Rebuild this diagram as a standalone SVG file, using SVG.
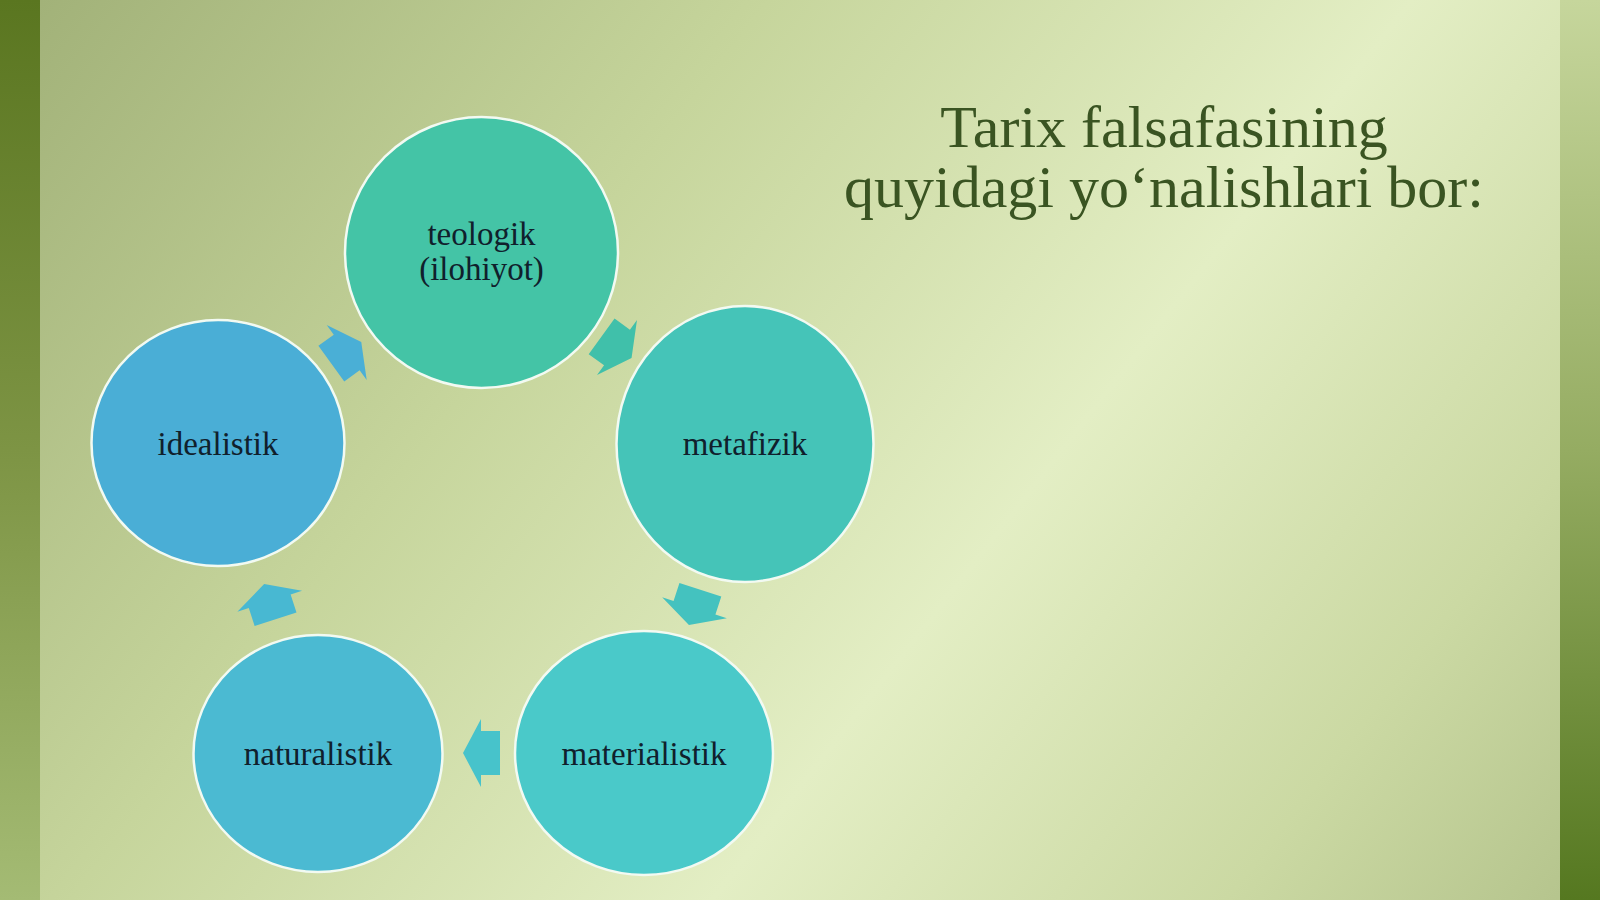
<svg xmlns="http://www.w3.org/2000/svg" xmlns:xlink="http://www.w3.org/1999/xlink" width="1600" height="900" viewBox="0 0 1600 900">
  <defs>
    <linearGradient id="bg" gradientUnits="userSpaceOnUse" x1="0" y1="0" x2="1600" y2="1244">
      <stop offset="0" stop-color="#a0b077"/>
      <stop offset="0.3" stop-color="#c6d59c"/>
      <stop offset="0.55" stop-color="#e3eec4"/>
      <stop offset="0.75" stop-color="#cbd9a3"/>
      <stop offset="1" stop-color="#a2b27a"/>
    </linearGradient>
    <linearGradient id="barL" x1="0" y1="0" x2="0" y2="1">
      <stop offset="0" stop-color="#5a7620"/>
      <stop offset="0.5" stop-color="#7d9444"/>
      <stop offset="1" stop-color="#a4bb74"/>
    </linearGradient>
    <linearGradient id="barR" x1="0" y1="0" x2="0" y2="1">
      <stop offset="0" stop-color="#c6d69c"/>
      <stop offset="0.5" stop-color="#95ac62"/>
      <stop offset="1" stop-color="#557820"/>
    </linearGradient>
    <path id="arrow" d="M-19,-22 H0 V-34 L18,0 L0,34 V22 H-19 Z"/>
    <style>
      .node { stroke: #f2faf2; stroke-width: 2.5; }
      .label { font-family: "Liberation Serif", "Times New Roman", serif; font-size: 33px; fill: #10202c; text-anchor: middle; }
      .title { font-family: "Liberation Serif", "Times New Roman", serif; font-size: 60px; fill: #3a5422; text-anchor: middle; }
    </style>
  </defs>

  <rect x="0" y="0" width="1600" height="900" fill="url(#bg)"/>
  <rect x="0" y="0" width="40" height="900" fill="url(#barL)"/>
  <rect x="1560" y="0" width="40" height="900" fill="url(#barR)"/>

  <g id="title">
    <text class="title" x="1164" y="147">Tarix falsafasining</text>
    <text class="title" x="1164" y="207">quyidagi yo‘nalishlari bor:</text>
  </g>

  <g id="connectors">
    <use xlink:href="#arrow" href="#arrow" fill="#40c0aa" transform="translate(617,347.5) rotate(36)"/>
    <use xlink:href="#arrow" href="#arrow" fill="#44c2bf" transform="translate(694.5,607.8) rotate(108)"/>
    <use xlink:href="#arrow" href="#arrow" fill="#47c3cb" transform="translate(481,753) rotate(180)"/>
    <use xlink:href="#arrow" href="#arrow" fill="#48b8d2" transform="translate(269.7,601.2) rotate(252)"/>
    <use xlink:href="#arrow" href="#arrow" fill="#4aafd6" transform="translate(346.7,352.5) rotate(324)"/>
  </g>

  <g id="node-teologik">
    <ellipse class="node" cx="481.5" cy="252.5" rx="136.5" ry="135.5" fill="#44c4a6"/>
    <text class="label" x="481.5" y="245">teologik</text>
    <text class="label" x="481.5" y="280">(ilohiyot)</text>
  </g>
  <g id="node-metafizik">
    <ellipse class="node" cx="745" cy="444" rx="128.5" ry="138" fill="#45c4b8"/>
    <text class="label" x="745" y="455">metafizik</text>
  </g>
  <g id="node-materialistik">
    <ellipse class="node" cx="644" cy="753" rx="129" ry="122" fill="#4ac9c9"/>
    <text class="label" x="644" y="765">materialistik</text>
  </g>
  <g id="node-naturalistik">
    <ellipse class="node" cx="318" cy="753.5" rx="124.5" ry="118.5" fill="#4bbad2"/>
    <text class="label" x="318" y="765">naturalistik</text>
  </g>
  <g id="node-idealistik">
    <ellipse class="node" cx="218" cy="443" rx="126.5" ry="123" fill="#4aaed6"/>
    <text class="label" x="218" y="455">idealistik</text>
  </g>
</svg>
